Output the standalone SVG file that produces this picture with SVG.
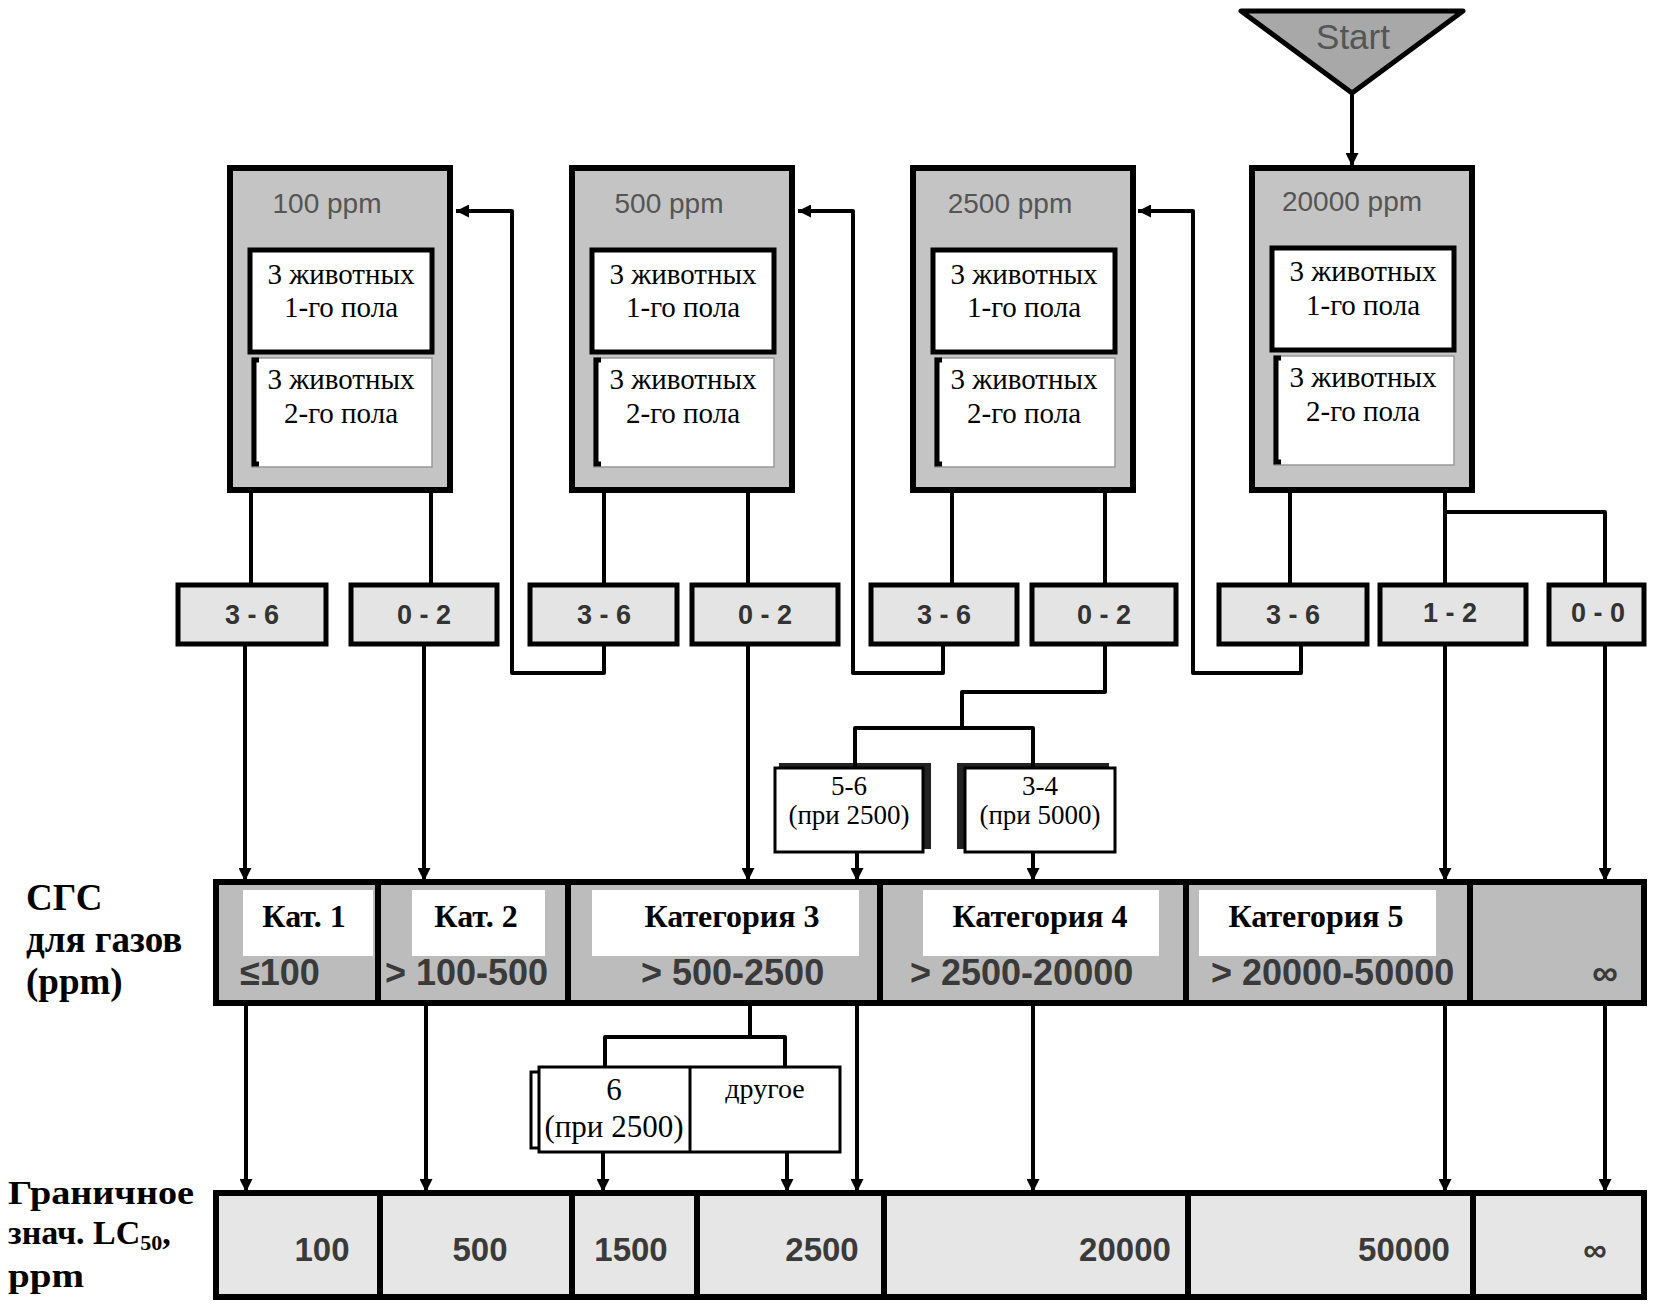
<svg xmlns="http://www.w3.org/2000/svg" width="1657" height="1309" viewBox="0 0 1657 1309">
<style>
.bg{fill:#ffffff}
.box{fill:#c4c4c4;stroke:#000;stroke-width:6}
.in1{fill:#fff;stroke:#000;stroke-width:5}
.in2{fill:#fff;stroke:#999;stroke-width:1.5}
.brk{fill:none;stroke:#000;stroke-width:5}
.lbl{fill:#e4e4e4;stroke:#000;stroke-width:5}
.sm{fill:#fff;stroke:#000;stroke-width:3}
.sh{fill:#222}
.row1{fill:#bcbcbc;stroke:#000;stroke-width:6}
.row2{fill:#e6e6e6;stroke:#000;stroke-width:6}
.div{stroke:#000;stroke-width:6}
.wh{fill:#fff}
.ttl{font-family:"Liberation Sans",Arial,sans-serif;font-size:28px;fill:#555;text-anchor:middle}
.tm{font-family:"Liberation Serif","Times New Roman",serif;font-size:29px;fill:#000;text-anchor:middle}
.tms{font-family:"Liberation Serif","Times New Roman",serif;font-size:27px;fill:#000;text-anchor:middle}
.tmb{font-family:"Liberation Serif","Times New Roman",serif;font-size:32px;font-weight:bold;fill:#000;text-anchor:middle}
.side{font-family:"Liberation Serif","Times New Roman",serif;font-size:37px;font-weight:bold;fill:#000}
.side2{font-family:"Liberation Serif","Times New Roman",serif;font-size:34px;font-weight:bold;fill:#000}
.num{font-family:"Liberation Sans",Arial,sans-serif;font-size:27px;font-weight:bold;fill:#333;text-anchor:middle}
.rng{font-family:"Liberation Sans",Arial,sans-serif;font-size:36px;font-weight:bold;fill:#3a3a3a}
.val{font-family:"Liberation Sans",Arial,sans-serif;font-size:33px;font-weight:bold;fill:#3a3a3a;text-anchor:middle}
.con{fill:none;stroke:#000;stroke-width:4;stroke-linejoin:round}
.arr{fill:none;stroke:#000;stroke-width:4;stroke-linejoin:round;marker-end:url(#ah)}
</style>
<defs>
<marker id="ah" viewBox="0 0 10 10" refX="10" refY="5" markerUnits="userSpaceOnUse" markerWidth="13" markerHeight="13" orient="auto">
<path d="M0,0 L10,5 L0,10 z" fill="#000"/>
</marker>
</defs>
<rect class="bg" x="0" y="0" width="1657" height="1309"/>

<g id="start">
<polygon points="1241,11 1463,11 1352,93" fill="#a8a8a8" stroke="#000" stroke-width="5" stroke-linejoin="round"/>
<text x="1353" y="49" font-family="Liberation Sans, Arial, sans-serif" font-size="35" fill="#555" text-anchor="middle">Start</text>
</g>

<g id="box-100">
<rect class="box" x="230" y="168" width="220" height="322"/>
<text class="ttl" x="327" y="213">100 ppm</text>
<rect class="in1" x="250" y="250" width="182" height="102"/>
<text class="tm" x="341" y="284">3 животных</text>
<text class="tm" x="341" y="317">1-го пола</text>
<rect class="in2" x="252" y="358" width="180" height="109"/>
<path class="brk" d="M259,360 H254 V464 H259"/>
<text class="tm" x="341" y="389">3 животных</text>
<text class="tm" x="341" y="423">2-го пола</text>
</g>

<g id="box-500">
<rect class="box" x="572" y="168" width="220" height="322"/>
<text class="ttl" x="669" y="213">500 ppm</text>
<rect class="in1" x="592" y="250" width="182" height="102"/>
<text class="tm" x="683" y="284">3 животных</text>
<text class="tm" x="683" y="317">1-го пола</text>
<rect class="in2" x="594" y="358" width="180" height="109"/>
<path class="brk" d="M601,360 H596 V464 H601"/>
<text class="tm" x="683" y="389">3 животных</text>
<text class="tm" x="683" y="423">2-го пола</text>
</g>

<g id="box-2500">
<rect class="box" x="913" y="168" width="220" height="322"/>
<text class="ttl" x="1010" y="213">2500 ppm</text>
<rect class="in1" x="933" y="250" width="182" height="102"/>
<text class="tm" x="1024" y="284">3 животных</text>
<text class="tm" x="1024" y="317">1-го пола</text>
<rect class="in2" x="935" y="358" width="180" height="109"/>
<path class="brk" d="M942,360 H937 V464 H942"/>
<text class="tm" x="1024" y="389">3 животных</text>
<text class="tm" x="1024" y="423">2-го пола</text>
</g>

<g id="box-20000">
<rect class="box" x="1252" y="168" width="220" height="322"/>
<text class="ttl" x="1352" y="211">20000 ppm</text>
<rect class="in1" x="1272" y="248" width="182" height="102"/>
<text class="tm" x="1363" y="281">3 животных</text>
<text class="tm" x="1363" y="315">1-го пола</text>
<rect class="in2" x="1274" y="356" width="180" height="109"/>
<path class="brk" d="M1281,358 H1276 V462 H1281"/>
<text class="tm" x="1363" y="387">3 животных</text>
<text class="tm" x="1363" y="421">2-го пола</text>
</g>

<g id="labels">
<g id="l1"><rect class="lbl" x="178" y="585" width="148" height="59"/><text class="num" x="252" y="624">3 - 6</text></g>
<g id="l2"><rect class="lbl" x="351" y="585" width="146" height="59"/><text class="num" x="424" y="624">0 - 2</text></g>
<g id="l3"><rect class="lbl" x="530" y="585" width="147" height="59"/><text class="num" x="604" y="624">3 - 6</text></g>
<g id="l4"><rect class="lbl" x="692" y="585" width="146" height="59"/><text class="num" x="765" y="624">0 - 2</text></g>
<g id="l5"><rect class="lbl" x="871" y="585" width="146" height="59"/><text class="num" x="944" y="624">3 - 6</text></g>
<g id="l6"><rect class="lbl" x="1032" y="585" width="144" height="59"/><text class="num" x="1104" y="624">0 - 2</text></g>
<g id="l7"><rect class="lbl" x="1219" y="585" width="148" height="59"/><text class="num" x="1293" y="624">3 - 6</text></g>
<g id="l8"><rect class="lbl" x="1380" y="585" width="146" height="59"/><text class="num" x="1450" y="622">1 - 2</text></g>
<g id="l9"><rect class="lbl" x="1549" y="585" width="95" height="59"/><text class="num" x="1598" y="622">0 - 0</text></g>
</g>

<g id="small-5-6">
<rect class="sh" x="779" y="763" width="152" height="86"/>
<rect class="sm" x="775" y="768" width="148" height="84"/>
<text class="tms" x="849" y="795">5-6</text>
<text class="tms" x="849" y="824">(при 2500)</text>
</g>
<g id="small-3-4">
<rect class="sh" x="957" y="763" width="152" height="86"/>
<rect class="sm" x="965" y="768" width="150" height="84"/>
<text class="tms" x="1040" y="795">3-4</text>
<text class="tms" x="1040" y="824">(при 5000)</text>
</g>

<g id="cat-row">
<rect class="row1" x="216" y="882" width="1428" height="121"/>
<line class="div" x1="378" y1="882" x2="378" y2="1003"/>
<line class="div" x1="568" y1="882" x2="568" y2="1003"/>
<line class="div" x1="880" y1="882" x2="880" y2="1003"/>
<line class="div" x1="1186" y1="882" x2="1186" y2="1003"/>
<line class="div" x1="1470" y1="882" x2="1470" y2="1003"/>
<rect class="wh" x="243" y="890" width="130" height="66"/>
<rect class="wh" x="412" y="890" width="133" height="66"/>
<rect class="wh" x="592" y="890" width="267" height="66"/>
<rect class="wh" x="923" y="890" width="236" height="66"/>
<rect class="wh" x="1199" y="890" width="237" height="66"/>
<text class="tmb" x="304" y="927">Кат. 1</text>
<text class="tmb" x="476" y="927">Кат. 2</text>
<text class="tmb" x="732" y="927">Категория 3</text>
<text class="tmb" x="1040" y="927">Категория 4</text>
<text class="tmb" x="1316" y="927">Категория 5</text>
<text class="rng" x="240" y="985">≤100</text>
<text class="rng" x="385" y="985">&gt; 100-500</text>
<text class="rng" x="641" y="985">&gt; 500-2500</text>
<text class="rng" x="910" y="985">&gt; 2500-20000</text>
<text class="rng" x="1211" y="985">&gt; 20000-50000</text>
<text class="rng" x="1605" y="985" text-anchor="middle">∞</text>
</g>

<g id="other-box">
<rect x="531" y="1072" width="9" height="76" fill="#fff" stroke="#000" stroke-width="3"/>
<rect class="sm" x="539" y="1067" width="301" height="85"/>
<line x1="690" y1="1067" x2="690" y2="1152" stroke="#000" stroke-width="3"/>
<text x="614" y="1100" font-family="Liberation Serif, Times New Roman, serif" font-size="31" text-anchor="middle">6</text>
<text x="614" y="1137" font-family="Liberation Serif, Times New Roman, serif" font-size="31" text-anchor="middle">(при 2500)</text>
<text x="765" y="1098" font-family="Liberation Serif, Times New Roman, serif" font-size="28" text-anchor="middle">другое</text>
</g>

<g id="lc50-row">
<rect class="row2" x="216" y="1193" width="1428" height="104"/>
<line class="div" x1="380" y1="1193" x2="380" y2="1297"/>
<line class="div" x1="572" y1="1193" x2="572" y2="1297"/>
<line class="div" x1="697" y1="1193" x2="697" y2="1297"/>
<line class="div" x1="884" y1="1193" x2="884" y2="1297"/>
<line class="div" x1="1188" y1="1193" x2="1188" y2="1297"/>
<line class="div" x1="1473" y1="1193" x2="1473" y2="1297"/>
<text class="val" x="322" y="1261">100</text>
<text class="val" x="480" y="1261">500</text>
<text class="val" x="631" y="1261">1500</text>
<text class="val" x="822" y="1261">2500</text>
<text class="val" x="1125" y="1261">20000</text>
<text class="val" x="1404" y="1261">50000</text>
<text class="val" x="1595" y="1261">∞</text>
</g>

<g id="side-labels">
<text class="side" x="26" y="910">СГС</text>
<text class="side" x="26" y="952">для газов</text>
<text class="side" x="26" y="994">(ppm)</text>
<text class="side2" x="8" y="1204" textLength="186" lengthAdjust="spacingAndGlyphs">Граничное</text>
<text class="side2" x="8" y="1244">знач. LC<tspan font-size="22" dy="6">50</tspan><tspan dy="-6">,</tspan></text>
<text class="side2" x="8" y="1287" textLength="76" lengthAdjust="spacingAndGlyphs">ppm</text>
</g>

<g id="connectors">
<path class="arr" d="M1352,93 V166"/>
<path class="con" d="M251,490 V585"/>
<path class="con" d="M431,490 V585"/>
<path class="con" d="M604,490 V585"/>
<path class="con" d="M748,490 V585"/>
<path class="con" d="M952,490 V585"/>
<path class="con" d="M1105,490 V585"/>
<path class="con" d="M1290,490 V585"/>
<path class="con" d="M1445,490 V585"/>
<path class="con" d="M1445,512 H1605 V585"/>
<path class="arr" d="M604,644 V673 H512 V211 H456"/>
<path class="arr" d="M943,644 V673 H853 V211 H798"/>
<path class="arr" d="M1301,644 V673 H1193 V211 H1138"/>
<path class="arr" d="M245,644 V881"/>
<path class="arr" d="M424,644 V881"/>
<path class="arr" d="M748,644 V881"/>
<path class="con" d="M1105,644 V692 H962 V728"/>
<path class="con" d="M855,768 V728 H1033 V768"/>
<path class="arr" d="M857,852 V881"/>
<path class="arr" d="M1033,852 V881"/>
<path class="arr" d="M1445,644 V881"/>
<path class="arr" d="M1605,644 V881"/>
<path class="arr" d="M246,1003 V1192"/>
<path class="arr" d="M426,1003 V1192"/>
<path class="con" d="M750,1003 V1037"/>
<path class="con" d="M605,1067 V1037 H785 V1067"/>
<path class="arr" d="M603,1152 V1192"/>
<path class="arr" d="M787,1152 V1192"/>
<path class="arr" d="M857,1003 V1192"/>
<path class="arr" d="M1033,1003 V1192"/>
<path class="arr" d="M1445,1003 V1192"/>
<path class="arr" d="M1605,1003 V1192"/>
</g>
</svg>
